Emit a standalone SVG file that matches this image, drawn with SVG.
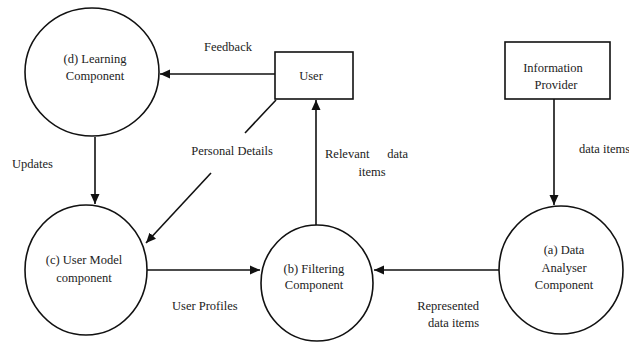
<svg xmlns="http://www.w3.org/2000/svg" width="629" height="347" viewBox="0 0 629 347">
<style>
text{font-family:"Liberation Serif","Times New Roman",Times,"DejaVu Serif",serif;font-size:12.5px;fill:#222;}
.s{fill:none;stroke:#111;stroke-width:1.6;}
.c{fill:#fff;stroke:#111;stroke-width:1.6;}
.m{text-anchor:middle;}
</style>
<defs>
<marker id="ah" viewBox="0 0 10 10" refX="10" refY="5" markerWidth="10" markerHeight="10" markerUnits="userSpaceOnUse" orient="auto">
<path d="M0,0.5 L10,5 L0,9.5 Z" fill="#111"/>
</marker>
</defs>
<rect width="629" height="347" fill="#fff"/>
<g id="connectors">
<line class="s" x1="275" y1="74" x2="160" y2="74" marker-end="url(#ah)"/>
<line class="s" x1="95" y1="137" x2="95" y2="204" marker-end="url(#ah)"/>
<line class="s" x1="276" y1="100" x2="245" y2="133"/>
<line class="s" x1="211" y1="173" x2="146" y2="243" marker-end="url(#ah)"/>
<line class="s" x1="316" y1="225" x2="316" y2="100" marker-end="url(#ah)"/>
<line class="s" x1="147" y1="270" x2="260" y2="270" marker-end="url(#ah)"/>
<line class="s" x1="499" y1="270" x2="374" y2="270" marker-end="url(#ah)"/>
<line class="s" x1="554" y1="99" x2="554" y2="205" marker-end="url(#ah)"/>
<text x="228" y="51" class="m">Feedback</text>
<text x="12" y="168">Updates</text>
<text x="232" y="155" class="m">Personal Details</text>
<text x="325" y="158">Relevant</text>
<text x="408" y="158" text-anchor="end">data</text>
<text x="372" y="176" class="m">items</text>
<text x="172" y="310">User Profiles</text>
<text x="479" y="310" text-anchor="end">Represented</text>
<text x="479" y="327" text-anchor="end">data items</text>
<text x="579" y="153">data items</text>
</g>
<g id="learning">
<ellipse class="c" cx="92" cy="72" rx="67" ry="64"/>
<text x="95" y="63" class="m">(d) Learning</text>
<text x="95" y="80" class="m">Component</text>
</g>
<g id="user">
<rect class="c" x="275" y="52" width="78" height="47"/>
<text x="311" y="80" class="m">User</text>
</g>
<g id="info-provider">
<rect class="c" x="505" y="42" width="105" height="57"/>
<text x="553" y="72" class="m">Information</text>
<text x="556" y="89" class="m">Provider</text>
</g>
<g id="user-model">
<ellipse class="c" cx="86" cy="270" rx="61" ry="65"/>
<text x="84" y="264" class="m">(c) User Model</text>
<text x="84" y="282" class="m">component</text>
</g>
<g id="filtering">
<ellipse class="c" cx="317" cy="283" rx="56" ry="58"/>
<text x="314" y="273" class="m">(b) Filtering</text>
<text x="314" y="289" class="m">Component</text>
</g>
<g id="data-analyser">
<ellipse class="c" cx="561" cy="270" rx="62" ry="64"/>
<text x="564" y="254" class="m">(a) Data</text>
<text x="564" y="272" class="m">Analyser</text>
<text x="564" y="289" class="m">Component</text>
</g>
</svg>
